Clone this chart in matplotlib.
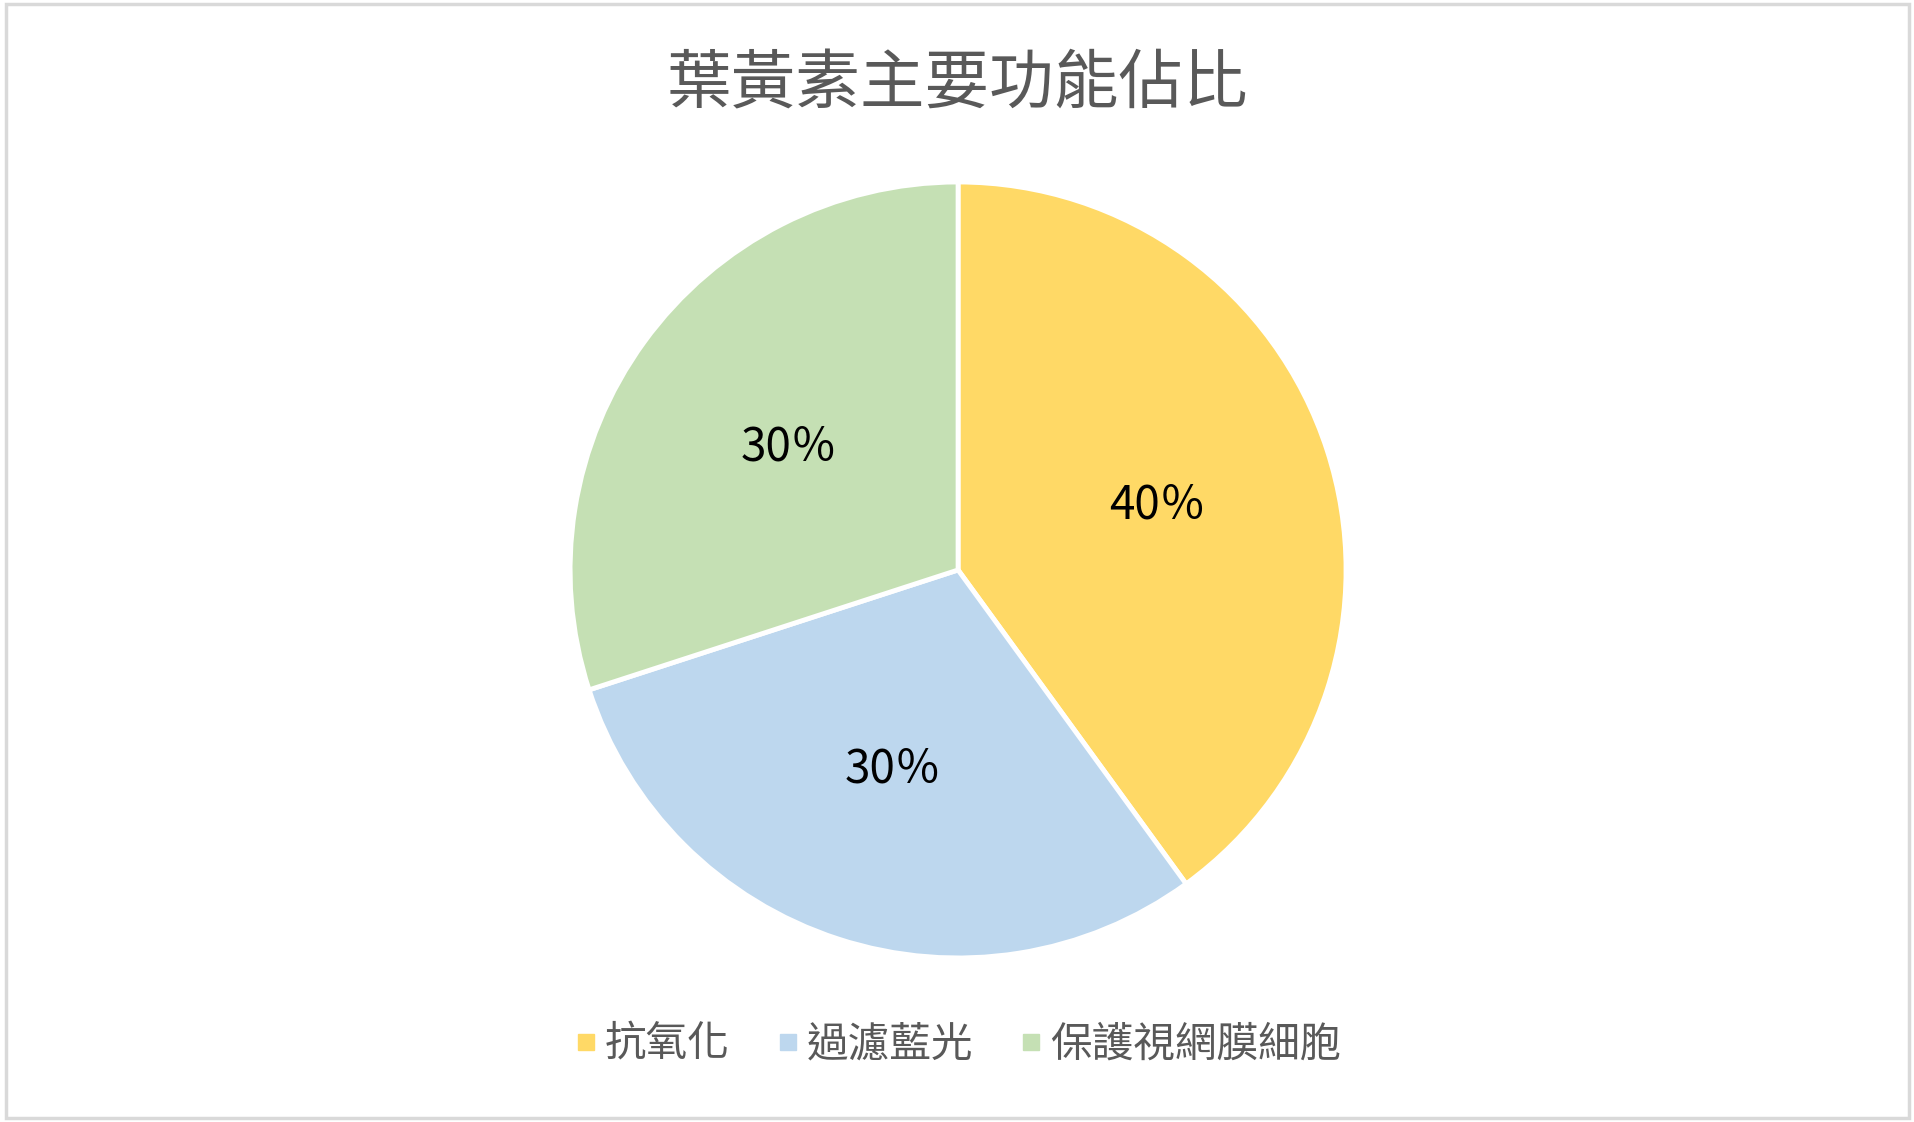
import matplotlib
matplotlib.use("Agg")
import matplotlib.pyplot as plt
from matplotlib.lines import Line2D
from matplotlib.patches import Rectangle

plt.rcParams['font.family'] = ['Noto Sans CJK TC', 'DejaVu Sans']

title = "葉黃素主要功能佔比"
labels = ["抗氧化", "過濾藍光", "保護視網膜細胞"]
values = [40, 30, 30]
colors = ["#FFD966", "#BDD7EE", "#C5E0B4"]

fig = plt.figure(figsize=(19.15, 11.22), dpi=100)

# light gray frame round the chart area
fig.add_artist(Rectangle((0.003, 0.004), 0.994, 0.992, transform=fig.transFigure,
                         fill=False, edgecolor="#D9D9D9", linewidth=2.5))

ax = fig.add_axes([0.2977, 0.1462, 0.4052, 0.6916])
wedges, texts, autotexts = ax.pie(
    values, colors=colors, startangle=90, counterclock=False,
    autopct=lambda p: f"{p:.0f}％", pctdistance=0.54,
    wedgeprops=dict(edgecolor="white", linewidth=3.5),
    textprops=dict(fontsize=33, color="black"))
ax.set_xlim(-1.0, 1.0)
ax.set_ylim(-1.0, 1.0)
ax.set_aspect("equal")

fig.text(0.5, 1 - 85 / 1122, title, ha="center", va="center",
         fontsize=46.5, color="#595959")

handles = [Line2D([], [], linestyle="none", marker="s", markersize=11,
                  markerfacecolor=c, markeredgecolor=c) for c in colors]
fig.legend(handles, labels, loc="center", bbox_to_anchor=(0.5, 1 - 1045 / 1122),
           ncol=3, frameon=False, fontsize=30, labelcolor="#595959",
           handlelength=0.6, handletextpad=0.15, columnspacing=1.1)

fig.savefig("out.png", dpi=100, facecolor="white")
